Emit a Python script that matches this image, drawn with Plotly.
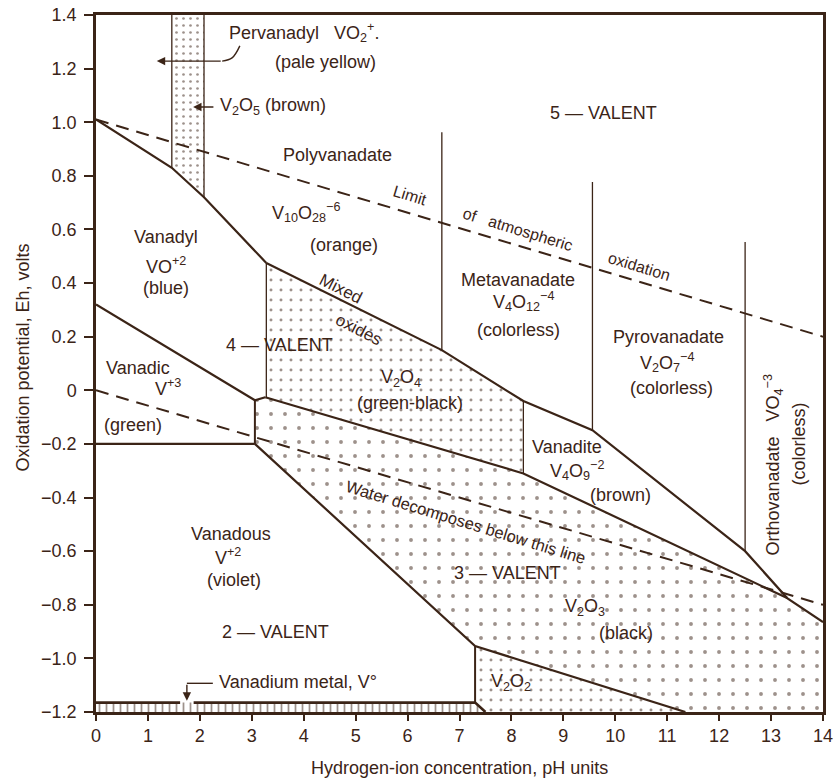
import plotly.graph_objects as go

INK = "#3b2417"
FONT = "Liberation Sans, Arial, Helvetica, sans-serif"

# ---------------- data (pH, Eh volts) ----------------
x_ticks = list(range(0, 15))
y_tick_vals = [1.4, 1.2, 1.0, 0.8, 0.6, 0.4, 0.2, 0, -0.2, -0.4, -0.6, -0.8, -1.0, -1.2]
y_tick_text = ["1.4", "1.2", "1.0", "0.8", "0.6", "0.4", "0.2", "0",
               "\u22120.2", "\u22120.4", "\u22120.6", "\u22120.8", "\u22121.0", "\u22121.2"]

# solid boundaries
vanadyl_top_ph = [0, 1.46, 2.08, 3.28]
vanadyl_top_eh = [1.01, 0.83, 0.72, 0.475]
upper_ph = [3.28, 6.66, 8.23, 9.56, 12.5, 13.31, 14]
upper_eh = [0.475, 0.15, -0.04, -0.149, -0.60, -0.775, -0.865]
lower_ph = [3.26, 8.23, 13.31]
lower_eh = [-0.026, -0.31, -0.775]
vanadic_top_ph = [0, 3.06, 3.26]
vanadic_top_eh = [0.32, -0.037, -0.026]
vanadic_bottom_ph = [0, 3.06]
vanadic_bottom_eh = [-0.2, -0.2]
v2o3_left_ph = [3.06, 7.3, 11.35]
v2o3_left_eh = [-0.2, -0.954, -1.2]
metal_top_ph_a = [0, 1.62]
metal_top_ph_b = [1.88, 7.3, 7.5]
metal_top_eh_a = [-1.165, -1.165]
metal_top_eh_b = [-1.165, -1.165, -1.2]

# vertical boundaries: pH, Eh bottom, Eh top
vert_ph = [1.46, 2.08, 3.28, 6.66, 8.23, 9.56, 12.5, 3.06, 7.3]
vert_lo = [0.83, 0.72, -0.026, 0.15, -0.31, -0.149, -0.60, -0.2, -1.165]
vert_hi = [1.4, 1.4, 0.475, 0.963, -0.04, 0.777, 0.553, -0.037, -0.954]

# dashed lines
o2_ph = [0, 14]
o2_eh = [1.01, 0.2]
h2o_ph = [0, 14]
h2o_eh = [0.0, -0.8]

# stippled fields
v2o5_ph = [1.46, 2.08, 2.08, 1.46]
v2o5_eh = [1.4, 1.4, 0.72, 0.83]
v2o4_ph = [3.28, 6.66, 8.23, 8.23, 3.28]
v2o4_eh = [0.475, 0.15, -0.04, -0.31, -0.026]
v2o3_ph = [3.06, 3.28, 8.23, 13.31, 14, 14, 11.35, 7.3, 3.06]
v2o3_eh = [-0.037, -0.026, -0.31, -0.775, -0.865, -1.2, -1.2, -0.954, -0.2]
v2o2_ph = [7.3, 11.35, 7.5, 7.3]
v2o2_eh = [-0.954, -1.2, -1.2, -1.165]
metal_ph = [0, 7.3, 7.5, 0]
metal_eh = [-1.165, -1.165, -1.2, -1.2]

# labels: text, pH, Eh, angle, size
labels = [
    ("Pervanadyl&nbsp;&nbsp;&nbsp;VO<sub>2</sub><sup>+</sup>.", 4.0, 1.335, 0, 18),
    ("(pale yellow)", 4.41, 1.225, 0, 18),
    ("5 \u2014 VALENT", 9.77, 1.034, 0, 18),
    ("Polyvanadate", 4.66, 0.878, 0, 18),
    ("V<sub>10</sub>O<sub>28</sub><sup>\u22126</sup>", 4.05, 0.665, 0, 18),
    ("(orange)", 4.78, 0.542, 0, 18),
    ("Vanadyl", 1.35, 0.572, 0, 18),
    ("VO<sup>+2</sup>", 1.35, 0.467, 0, 18),
    ("(blue)", 1.35, 0.38, 0, 18),
    ("Limit", 6.05, 0.728, 17, 16),
    ("of&nbsp;&nbsp;&nbsp;atmospheric", 8.13, 0.601, 17, 16),
    ("oxidation", 10.46, 0.46, 17, 16),
    ("Metavanadate", 8.12, 0.411, 0, 18),
    ("V<sub>4</sub>O<sub>12</sub><sup>\u22124</sup>", 8.23, 0.33, 0, 18),
    ("(colorless)", 8.13, 0.225, 0, 18),
    ("Pyrovanadate", 11.02, 0.2, 0, 18),
    ("V<sub>2</sub>O<sub>7</sub><sup>\u22124</sup>", 11.0, 0.105, 0, 18),
    ("(colorless)", 11.08, 0.008, 0, 18),
    ("Orthovanadate&nbsp;&nbsp;&nbsp;VO<sub>4</sub><sup>\u22123</sup>", 13.04, -0.28, -90, 18),
    ("(colorless)", 13.53, -0.20, -90, 18),
    ("Mixed", 4.7, 0.378, 27, 17),
    ("oxides", 5.05, 0.225, 27, 17),
    ("4 \u2014 VALENT", 3.53, 0.169, 0, 18),
    ("V<sub>2</sub>O<sub>4</sub>", 5.88, 0.045, 0, 18),
    ("(green-black)", 6.05, -0.048, 0, 18),
    ("Vanadic", 0.81, 0.083, 0, 18),
    ("V<sup>+3</sup>", 1.39, 0.01, 0, 18),
    ("(green)", 0.72, -0.13, 0, 18),
    ("Vanadite", 9.07, -0.212, 0, 18),
    ("V<sub>4</sub>O<sub>9</sub><sup>\u22122</sup>", 9.27, -0.3, 0, 18),
    ("(brown)", 10.1, -0.39, 0, 18),
    ("Water decomposes below this line", 7.12, -0.492, 17, 16.5),
    ("Vanadous", 2.6, -0.535, 0, 18),
    ("V<sup>+2</sup>", 2.55, -0.62, 0, 18),
    ("(violet)", 2.66, -0.708, 0, 18),
    ("2 \u2014 VALENT", 3.45, -0.902, 0, 18),
    ("3 \u2014 VALENT", 7.93, -0.682, 0, 18),
    ("V<sub>2</sub>O<sub>3</sub>", 9.42, -0.809, 0, 18),
    ("(black)", 10.2, -0.906, 0, 18),
    ("V<sub>2</sub>O<sub>2</sub>", 8.0, -1.089, 0, 18),
]
left_labels = [
    ("V<sub>2</sub>O<sub>5</sub> (brown)", 2.35, 1.057),
    ("Vanadium metal, V\u00b0", 2.33, -1.089),
]

# arrows: head pH, head Eh, tail pH, tail Eh
arrows = [
    (1.17, 1.228, 2.43, 1.228),
    (1.87, 1.057, 2.29, 1.057),
    (1.75, -1.158, 1.75, -1.093),
]
pervanadyl_link_ph = [2.43, 2.62, 2.77]
pervanadyl_link_eh = [1.228, 1.24, 1.285]
metal_link_ph = [2.25, 1.75]
metal_link_eh = [-1.093, -1.093]

x_title = "Hydrogen-ion concentration, pH units"
y_title = "Oxidation potential, Eh, volts"

# ---------------- figure ----------------
fig = go.Figure()


def field(px, py, size, solid, shape="."):
    fig.add_trace(go.Scatter(
        x=px, y=py, mode="lines", fill="toself", line=dict(width=0),
        fillcolor="rgba(255,255,255,0)",
        fillpattern=dict(shape=shape, fgcolor=INK, bgcolor="rgba(255,255,255,0)",
                         size=size, solidity=solid),
        hoverinfo="skip", showlegend=False))


field(v2o5_ph, v2o5_eh, 7, 0.12)
field(v2o4_ph, v2o4_eh, 10, 0.07)
field(v2o3_ph, v2o3_eh, 14, 0.06)
field(v2o2_ph, v2o2_eh, 10, 0.07)
field(metal_ph, metal_eh, 7, 0.25, "|")


def line(px, py, width=2.2, dash="solid", shape="linear"):
    fig.add_trace(go.Scatter(x=px, y=py, mode="lines",
                             line=dict(color=INK, width=width, dash=dash, shape=shape),
                             hoverinfo="skip", showlegend=False))


line(vanadyl_top_ph, vanadyl_top_eh)
line(upper_ph, upper_eh)
line(lower_ph, lower_eh)
line(vanadic_top_ph, vanadic_top_eh)
line(vanadic_bottom_ph, vanadic_bottom_eh)
line(v2o3_left_ph, v2o3_left_eh)
line(metal_top_ph_a, metal_top_eh_a, 2.6)
line(metal_top_ph_b, metal_top_eh_b, 2.6)
thin = {1.46, 2.08, 6.66, 9.56, 12.5, 8.23, 3.28}
for p, lo, hi in zip(vert_ph, vert_lo, vert_hi):
    line([p, p], [lo, hi], 1.3 if p in thin else 2.0)
line(o2_ph, o2_eh, 2.0, "13px,8px")
line(h2o_ph, h2o_eh, 2.0, "13px,8px")
line(pervanadyl_link_ph, pervanadyl_link_eh, 1.4, "solid", "spline")
line(metal_link_ph, metal_link_eh, 1.4)

annotations = []
for t, px, py, ang, sz in labels:
    annotations.append(dict(x=px, y=py, xref="x", yref="y", text=t, showarrow=False,
                            textangle=ang, font=dict(family=FONT, size=sz, color=INK)))
for t, px, py in left_labels:
    annotations.append(dict(x=px, y=py, xref="x", yref="y", text=t, showarrow=False,
                            xanchor="left", font=dict(family=FONT, size=18, color=INK)))
for hx, hy, tx, ty in arrows:
    annotations.append(dict(x=hx, y=hy, ax=tx, ay=ty, xref="x", yref="y", axref="x", ayref="y",
                            text="", showarrow=True, arrowhead=2, arrowsize=1.2,
                            arrowwidth=1.4, arrowcolor=INK))
annotations.append(dict(x=0.5, y=-0.08, xref="paper", yref="paper", text=x_title,
                        showarrow=False, yanchor="middle",
                        font=dict(family=FONT, size=18, color=INK)))
annotations.append(dict(x=-0.1, y=0.509, xref="paper", yref="paper", text=y_title,
                        showarrow=False, textangle=-90, xanchor="center", yanchor="middle",
                        font=dict(family=FONT, size=18, color=INK)))

fig.update_layout(
    width=839, height=783,
    margin=dict(l=96, r=16, t=15, b=71),
    paper_bgcolor="white", plot_bgcolor="white",
    font=dict(family=FONT, size=18, color=INK),
    showlegend=False,
    annotations=annotations,
    xaxis=dict(range=[0, 14], tickvals=x_ticks, ticks="outside", ticklen=6, tickwidth=1.5,
               tickcolor=INK, showline=True, mirror=True, linewidth=2.5, linecolor=INK,
               showgrid=False, zeroline=False, automargin=False,
               tickfont=dict(family=FONT, size=18, color=INK)),
    yaxis=dict(range=[-1.2, 1.4], tickvals=y_tick_vals, ticktext=y_tick_text,
               ticks="outside", ticklen=9, tickwidth=1.5, tickcolor=INK,
               showline=True, mirror=True, linewidth=2.5, linecolor=INK,
               showgrid=False, zeroline=False, automargin=False, ticklabelstandoff=4,
               tickfont=dict(family=FONT, size=18, color=INK)),
)

# remove the default 8px page margin so the figure fills the window exactly
fig.write_html("out.html", config={"displayModeBar": False},
               post_script="document.body.style.margin='0';document.body.style.overflow='hidden';")
